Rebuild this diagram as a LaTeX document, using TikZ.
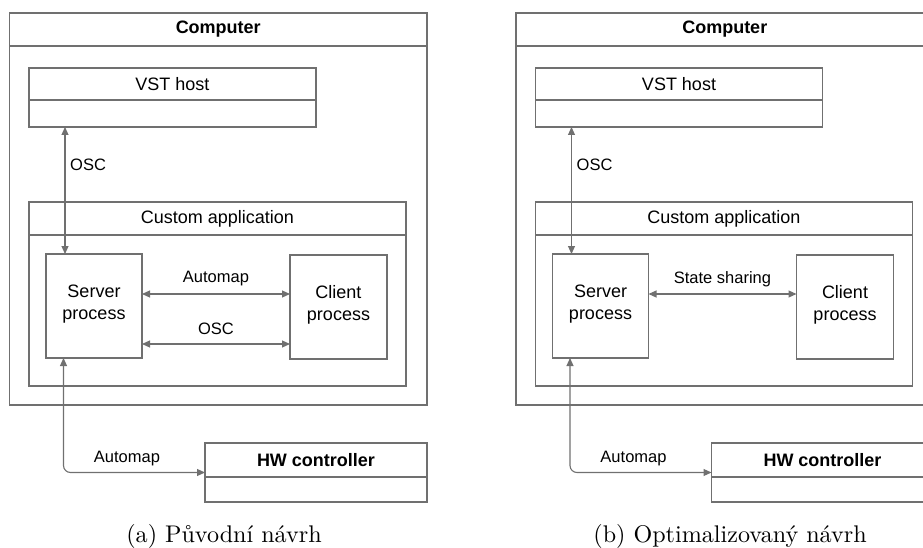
\documentclass[tikz,border=0pt]{standalone}
\usepackage{fontspec}
\newfontfamily\diagfont{Liberation Sans}
\usetikzlibrary{arrows.meta,calc}
\definecolor{linegray}{RGB}{112,112,112}
\begin{document}
\begin{tikzpicture}[x=1pt,y=-1pt,
  box/.style={draw=linegray, line width=1.3pt, inner sep=0pt, outer sep=0pt, anchor=north west},
  divider/.style={draw=linegray, line width=1.3pt},
  titletxt/.style={font=\diagfont\fontsize{18}{22}\selectfont, inner sep=0pt, align=center},
  boldtxt/.style={font=\diagfont\bfseries\fontsize{18}{22}\selectfont, inner sep=0pt},
  lbl/.style={font=\diagfont\fontsize{16.5}{19}\selectfont, inner sep=0pt},
  conn/.style={draw=linegray, line width=1.1pt, {Triangle[length=8pt,width=7pt]}-{Triangle[length=8pt,width=7pt]}},
  captxt/.style={font=\rmfamily\normalsize, scale=2.41, anchor=base, inner sep=0pt}
]
\useasboundingbox (0,0) rectangle (923,548);
\clip (0,0) rectangle (923,548);
\foreach \p/\dx in {a/0,b/506.5}{
 \begin{scope}[xshift=\dx pt]
  % boxes
  \node[box, minimum width=417.5pt, minimum height=392pt] (comp\p) at (9.5,13) {};
  \node[box, minimum width=287pt, minimum height=59pt] (vst\p) at (29,68) {};
  \node[box, minimum width=377pt, minimum height=184pt] (app\p) at (29,202) {};
  \node[box, minimum width=96pt, minimum height=104pt] (srv\p) at (46,254) {};
  \node[box, minimum width=97pt, minimum height=104pt] (cli\p) at (290,255) {};
  \node[box, minimum width=222pt, minimum height=59pt] (hw\p) at (205,443) {};
  % dividers
  \draw[divider] ([yshift=-33pt]comp\p.north west) -- ([yshift=-33pt]comp\p.north east);
  \draw[divider] ([yshift=-32pt]vst\p.north west) -- ([yshift=-32pt]vst\p.north east);
  \draw[divider] ([yshift=-33pt]app\p.north west) -- ([yshift=-33pt]app\p.north east);
  \draw[divider] ([yshift=-34pt]hw\p.north west) -- ([yshift=-34pt]hw\p.north east);
  % titles
  \node[boldtxt] (compT\p) at ([yshift=-16.5pt]comp\p.north) {Computer};
  \node[titletxt] (vstT\p) at ([yshift=-16pt]vst\p.north) {VST host};
  \node[titletxt] (appT\p) at ([yshift=-16.5pt]app\p.north) {Custom application};
  \node[boldtxt] (hwT\p) at ([yshift=-17pt]hw\p.north) {HW controller};
  \node[titletxt] (srvT\p) at ([yshift=2pt]srv\p.center) {Server\\process};
  \node[titletxt] (cliT\p) at ([yshift=2pt]cli\p.center) {Client\\process};
  % OSC to VST host
  \coordinate (oscV\p) at ([xshift=19pt]srv\p.north west);
  \draw[conn] (oscV\p) -- (oscV\p |- vst\p.south);
  \node[lbl, anchor=west] (oscL\p) at (70,165) {OSC};
  % Automap to HW controller
  \coordinate (hwA\p) at ([xshift=17.5pt]srv\p.south west);
  \draw[conn, rounded corners=7pt] (hwA\p) |- (hw\p.west);
  \node[lbl] (hwL\p) at (127,459) {Automap};
 \end{scope}
}
% panel (a): server <-> client
\coordinate (amA) at ([yshift=12pt]srva.east);
\draw[conn] (amA) -- (amA -| clia.west);
\node[lbl] (amL) at (216,279) {Automap};
\coordinate (oscH) at ([yshift=-38pt]srva.east);
\draw[conn] (oscH) -- (oscH -| clia.west);
\node[lbl] (oscHL) at (216,329) {OSC};
% panel (b): state sharing
\coordinate (ssB) at ([yshift=12pt]srvb.east);
\draw[conn] (ssB) -- (ssB -| clib.west);
\node[lbl] (ssL) at (722.5,279) {State sharing};
% captions
\node[captxt] (capa) at (224,542) {(a) Původní návrh};
\node[captxt] (capb) at (730,542) {(b) Optimalizovaný návrh};
\end{tikzpicture}
\end{document}
